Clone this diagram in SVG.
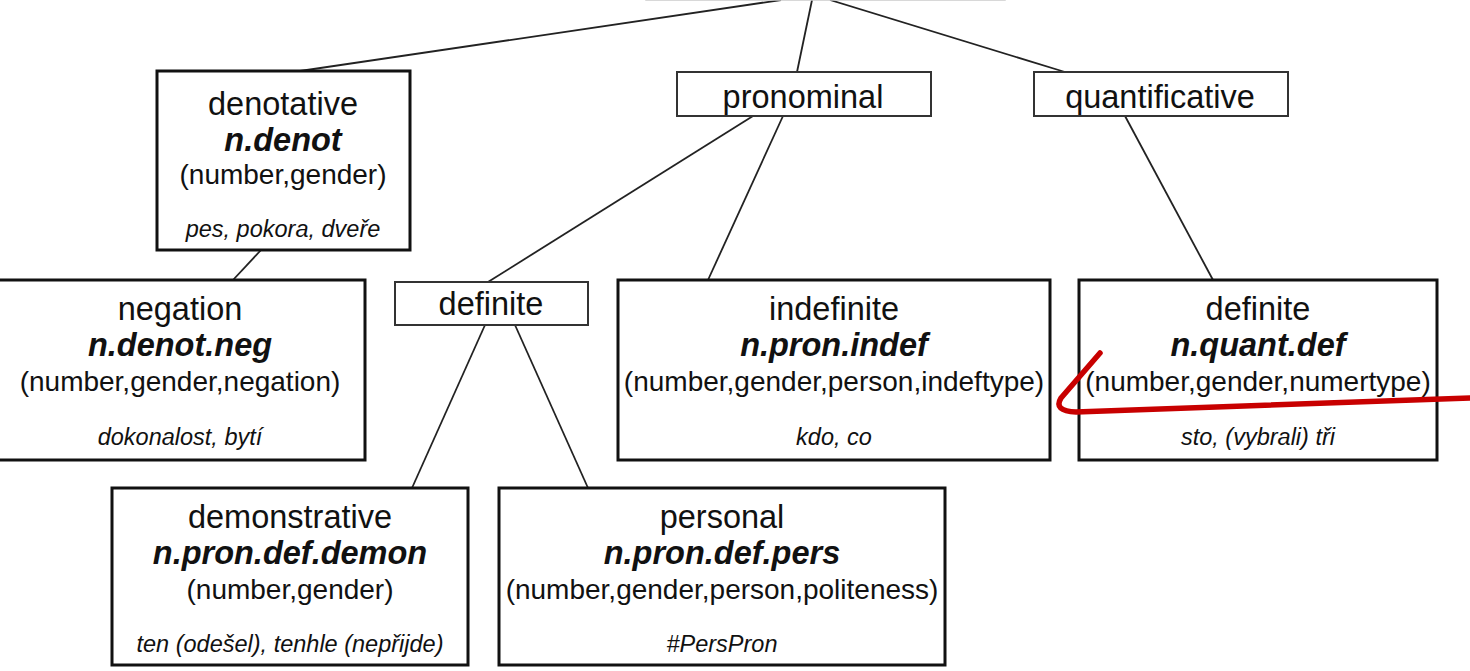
<svg xmlns="http://www.w3.org/2000/svg" width="1470" height="671" viewBox="0 0 1470 671">
<style>
.big{fill:#fff;stroke:#111;stroke-width:3}
.small{fill:#fff;stroke:#333;stroke-width:2}
text{font-family:"Liberation Sans",Arial,sans-serif;text-anchor:middle;fill:#111}
.t{font-size:32.5px}
.c{font-size:32.5px;font-weight:bold;font-style:italic}
.p{font-size:28px}
.e{font-size:23.5px;font-style:italic}
.con line{stroke:#222;stroke-width:1.8}
</style>
<rect width="1470" height="671" fill="#fff"/>
<g id="connectors" class="con">
<line x1="781" y1="0" x2="300" y2="71"/>
<line x1="812" y1="0" x2="797" y2="72"/>
<line x1="830" y1="0" x2="1065" y2="72"/>
<line x1="753" y1="116" x2="488" y2="282"/>
<line x1="783" y1="116" x2="708" y2="280"/>
<line x1="1125" y1="116" x2="1213" y2="280"/>
<line x1="261" y1="250" x2="233" y2="280"/>
<line x1="485" y1="325" x2="412" y2="488"/>
<line x1="515" y1="325" x2="588" y2="488"/>
</g>
<g id="root"><rect x="646" y="-40" width="359" height="40" fill="#fff" stroke="#ccc" stroke-width="1.5"/></g>
<g id="denotative">
<rect class="big" x="157" y="71" width="253" height="179"/>
<text class="t" x="283" y="115">denotative</text>
<text class="c" x="283" y="151">n.denot</text>
<text class="p" x="283" y="184">(number,gender)</text>
<text class="e" x="283" y="237">pes, pokora, dveře</text>
</g>
<g id="pronominal">
<rect class="small" x="677" y="72" width="254" height="44"/>
<text class="t" x="803" y="108">pronominal</text>
</g>
<g id="quantificative">
<rect class="small" x="1034" y="72" width="254" height="44"/>
<text class="t" x="1160" y="108">quantificative</text>
</g>
<g id="negation">
<rect class="big" x="-5" y="280" width="370" height="180"/>
<text class="t" x="180" y="320">negation</text>
<text class="c" x="180" y="356">n.denot.neg</text>
<text class="p" x="180" y="391">(number,gender,negation)</text>
<text class="e" x="180" y="445">dokonalost, bytí</text>
</g>
<g id="definite-pron">
<rect class="small" x="395" y="282" width="193" height="43"/>
<text class="t" x="491" y="315">definite</text>
</g>
<g id="indefinite">
<rect class="big" x="618" y="280" width="432" height="180"/>
<text class="t" x="834" y="320">indefinite</text>
<text class="c" x="834" y="356">n.pron.indef</text>
<text class="p" x="834" y="391">(number,gender,person,indeftype)</text>
<text class="e" x="834" y="445">kdo, co</text>
</g>
<g id="definite-quant">
<rect class="big" x="1079" y="280" width="358" height="180"/>
<text class="t" x="1258" y="320">definite</text>
<text class="c" x="1258" y="356">n.quant.def</text>
<text class="p" x="1258" y="391">(number,gender,numertype)</text>
<text class="e" x="1258" y="445">sto, (vybrali) tři</text>
</g>
<g id="demonstrative">
<rect class="big" x="112" y="488" width="356" height="177"/>
<text class="t" x="290" y="528">demonstrative</text>
<text class="c" x="290" y="564">n.pron.def.demon</text>
<text class="p" x="290" y="599">(number,gender)</text>
<text class="e" x="290" y="652">ten (odešel), tenhle (nepřijde)</text>
</g>
<g id="personal">
<rect class="big" x="499" y="488" width="446" height="177"/>
<text class="t" x="722" y="528">personal</text>
<text class="c" x="722" y="564">n.pron.def.pers</text>
<text class="p" x="722" y="599">(number,gender,person,politeness)</text>
<text class="e" x="722" y="652">#PersPron</text>
</g>
<g id="annotation">
<path d="M1100,353 L1061,398 Q1053,411 1076,412 L1470,398" fill="none" stroke="#c80000" stroke-width="5.5" stroke-linecap="round" stroke-linejoin="round"/>
</g>
</svg>
